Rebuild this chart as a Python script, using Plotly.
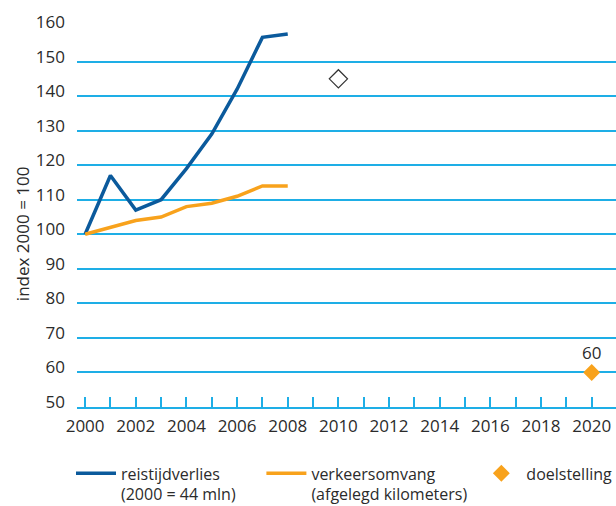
import plotly.graph_objects as go

years = [2000, 2001, 2002, 2003, 2004, 2005, 2006, 2007, 2008]
reistijdverlies = [100, 117, 107, 110, 119, 129, 142, 157, 158]
verkeersomvang = [100, 102, 104, 105, 108, 109, 111, 114, 114]
open_year = [2010]
open_value = [145]
doel_year = [2020]
doel_value = [60]
doel_label = ["60"]

BLUE = "#0b5a9c"
ORANGE = "#f8a21c"
GRID = "#1eaee6"
TXT = "#2b2b2b"
FONT = "Open Sans"
NB = "\u00a0"

fig = go.Figure()
fig.add_trace(go.Scatter(x=years, y=reistijdverlies, mode="lines",
                         name="reistijdverlies<br>(2000 = 44 mln)" + NB * 5,
                         line=dict(color=BLUE, width=3.5)))
fig.add_trace(go.Scatter(x=years, y=verkeersomvang, mode="lines",
                         name="verkeersomvang<br>(afgelegd kilometers)" + NB,
                         line=dict(color=ORANGE, width=3.5)))
fig.add_trace(go.Scatter(x=open_year, y=open_value, mode="markers", showlegend=False,
                         marker=dict(symbol="diamond-open", size=14, color="#333333",
                                     line=dict(width=1.2, color="#333333"))))
fig.add_trace(go.Scatter(x=doel_year, y=doel_value, mode="markers+text", name="doelstelling",
                         text=doel_label, textposition="top center",
                         textfont=dict(size=17, color=TXT, family=FONT),
                         marker=dict(symbol="diamond", size=13, color=ORANGE)))

fig.update_layout(
    width=616, height=506,
    margin=dict(l=77, r=0, t=27, b=99, autoexpand=False),
    paper_bgcolor="white", plot_bgcolor="white",
    font=dict(family=FONT, size=16, color=TXT),
    showlegend=True,
    legend=dict(orientation="h", x=-6 / 539, xanchor="left", yref="paper", y=-0.130,
                yanchor="top", valign="top", itemwidth=40,
                font=dict(size=16, color=TXT, family=FONT), bgcolor="rgba(0,0,0,0)"),
    annotations=[dict(text="index 2000 = 100", textangle=-90, xref="paper", yref="paper",
                      x=(22 - 77) / 539, xanchor="center", y=(407 - 234) / 380.3,
                      yanchor="middle", showarrow=False,
                      font=dict(size=17, color=TXT, family=FONT))],
)
fig.update_xaxes(range=[1999.68, 2020.96], tickmode="linear", tick0=2000, dtick=2,
                 ticks="inside", ticklen=10, tickcolor=GRID, tickwidth=1.5,
                 minor=dict(dtick=1, ticks="inside", ticklen=10, tickcolor=GRID, tickwidth=1.5),
                 showgrid=False, zeroline=False, showline=True, linecolor=GRID, linewidth=1.5,
                 automargin=False, ticklabelstandoff=3, tickfont=dict(size=17, color=TXT))
fig.update_yaxes(range=[50, 160], tickmode="linear", tick0=50, dtick=10,
                 showgrid=True, gridcolor=GRID, gridwidth=1.5, zeroline=False, showline=False,
                 automargin=False, ticks="", ticklabelstandoff=11, ticklabelshift=-5,
                 tickfont=dict(size=17, color=TXT))

fig.write_html("out.html", config={"displayModeBar": False},
               post_script="document.body.style.margin='0px';")
